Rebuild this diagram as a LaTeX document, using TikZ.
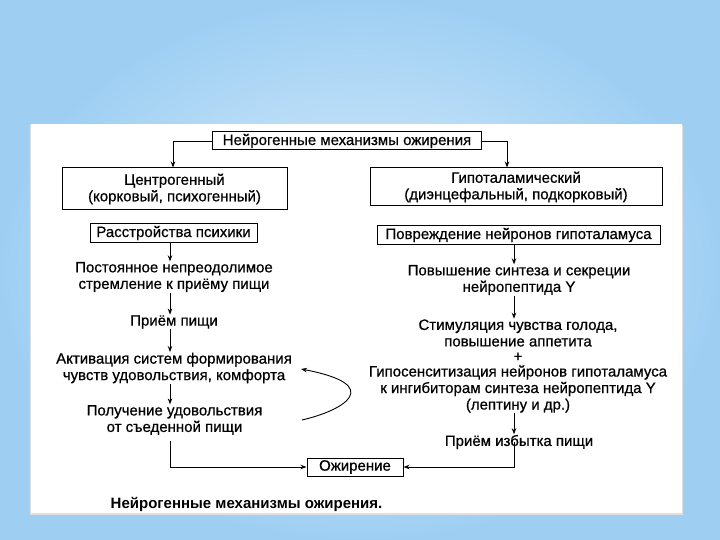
\documentclass[tikz,border=0pt]{standalone}
\usepackage{fontspec}
\setmainfont[FakeBold=0.6]{Liberation Sans}
\newfontfamily\capfont{Liberation Sans}
\usetikzlibrary{arrows.meta,calc}
\definecolor{bgedge}{RGB}{158,207,243}
\definecolor{bgin}{RGB}{222,239,251}
\tikzset{
  boxnode/.style={draw, line width=1pt, inner xsep=3pt, inner ysep=0pt, align=center, font=\fontsize{15}{16.5}\selectfont},
  txt/.style={inner sep=0.5pt, align=center, font=\fontsize{15}{16.5}\selectfont},
  conn/.style={line width=0.9pt},
  arr/.style={conn, -{Stealth[length=6pt,width=4.5pt]}}
}
\begin{document}
\begin{tikzpicture}[x=1pt,y=-1pt]
\useasboundingbox (0,0) rectangle (720,540);
\shade[inner color=bgin, outer color=bgedge] (0,0) rectangle (720,540);
\fill[black!12] (30,125) rectangle (683,515);
\fill[white] (31,124) rectangle (682,513);

\coordinate (colL) at (170,0);
\coordinate (colR) at (514,0);
\coordinate (brL) at (173,0);
\coordinate (brR) at (507,0);

\node[boxnode, minimum width=269pt, minimum height=18pt] (title) at (347,141) {Нейрогенные механизмы ожирения};
\node[boxnode, minimum width=225pt, minimum height=42pt] (central) at (174.5,189) {Центрогенный\\(корковый, психогенный)};
\node[boxnode, minimum width=292pt, minimum height=38pt] (hypo) at (516,187) {Гипоталамический\\(диэнцефальный, подкорковый)};

\node[boxnode, minimum width=167pt, minimum height=18pt] (rasstr) at (173.5,233) {Расстройства психики};
\node[txt] (postoyan) at (174,277) {Постоянное непреодолимое\\стремление к приёму пищи};
\node[txt] (priem) at (174,322) {Приём пищи};
\node[txt] (activ) at (174,368) {Активация систем формирования\\чувств удовольствия, комфорта};
\node[txt] (poluch) at (174.5,420) {Получение удовольствия\\от съеденной пищи};

\node[boxnode, minimum width=283pt, minimum height=19pt] (povr) at (518.5,235) {Повреждение нейронов гипоталамуса};
\node[txt] (povysh) at (519,280) {Повышение синтеза и секреции\\нейропептида Y};
\node[txt] (stim) at (518,333) {Стимуляция чувства голода,\\повышение аппетита};
\node[txt] (plus) at (518,357) {+};
\node[txt] (gipo) at (518,389) {Гипосенситизация нейронов гипоталамуса\\к ингибиторам синтеза нейропептида Y\\(лептину и др.)};
\node[txt] (priemizb) at (519,442) {Приём избытка пищи};

\node[boxnode, minimum width=96pt, minimum height=18pt] (ozhir) at (355,467) {Ожирение};

\node[txt, anchor=west, font=\capfont\fontsize{15}{16.5}\selectfont\bfseries] (caption) at (110,504) {Нейрогенные механизмы ожирения.};

% top branches
\draw[arr] (title.west) -| (central.north -| brL);
\draw[arr] (title.east) -| (hypo.north -| brR);

% left column
\draw[arr] (rasstr.south -| colL) -- (postoyan.north -| colL);
\draw[arr] (postoyan.south -| colL) -- (priem.north -| colL);
\draw[arr] (priem.south -| colL) -- (activ.north -| colL);
\draw[arr] (activ.south -| colL) -- (poluch.north -| colL);
\draw[arr] ($(poluch.south -| colL)+(0,5)$) |- (ozhir.west);

% right column
\draw[arr] (povr.south -| colR) -- (povysh.north -| colR);
\draw[arr] (povysh.south -| colR) -- (stim.north -| colR);
\draw[arr] (gipo.south -| colR) -- (priemizb.north -| colR);
\draw[arr] (priemizb.center -| colR) |- (ozhir.east);

% feedback curve
\coordinate (cs) at (302,420);
\coordinate (ce) at (301,369);
\draw[arr] (cs) .. controls (345,410) and (385,385) .. (ce);
\end{tikzpicture}
\end{document}
